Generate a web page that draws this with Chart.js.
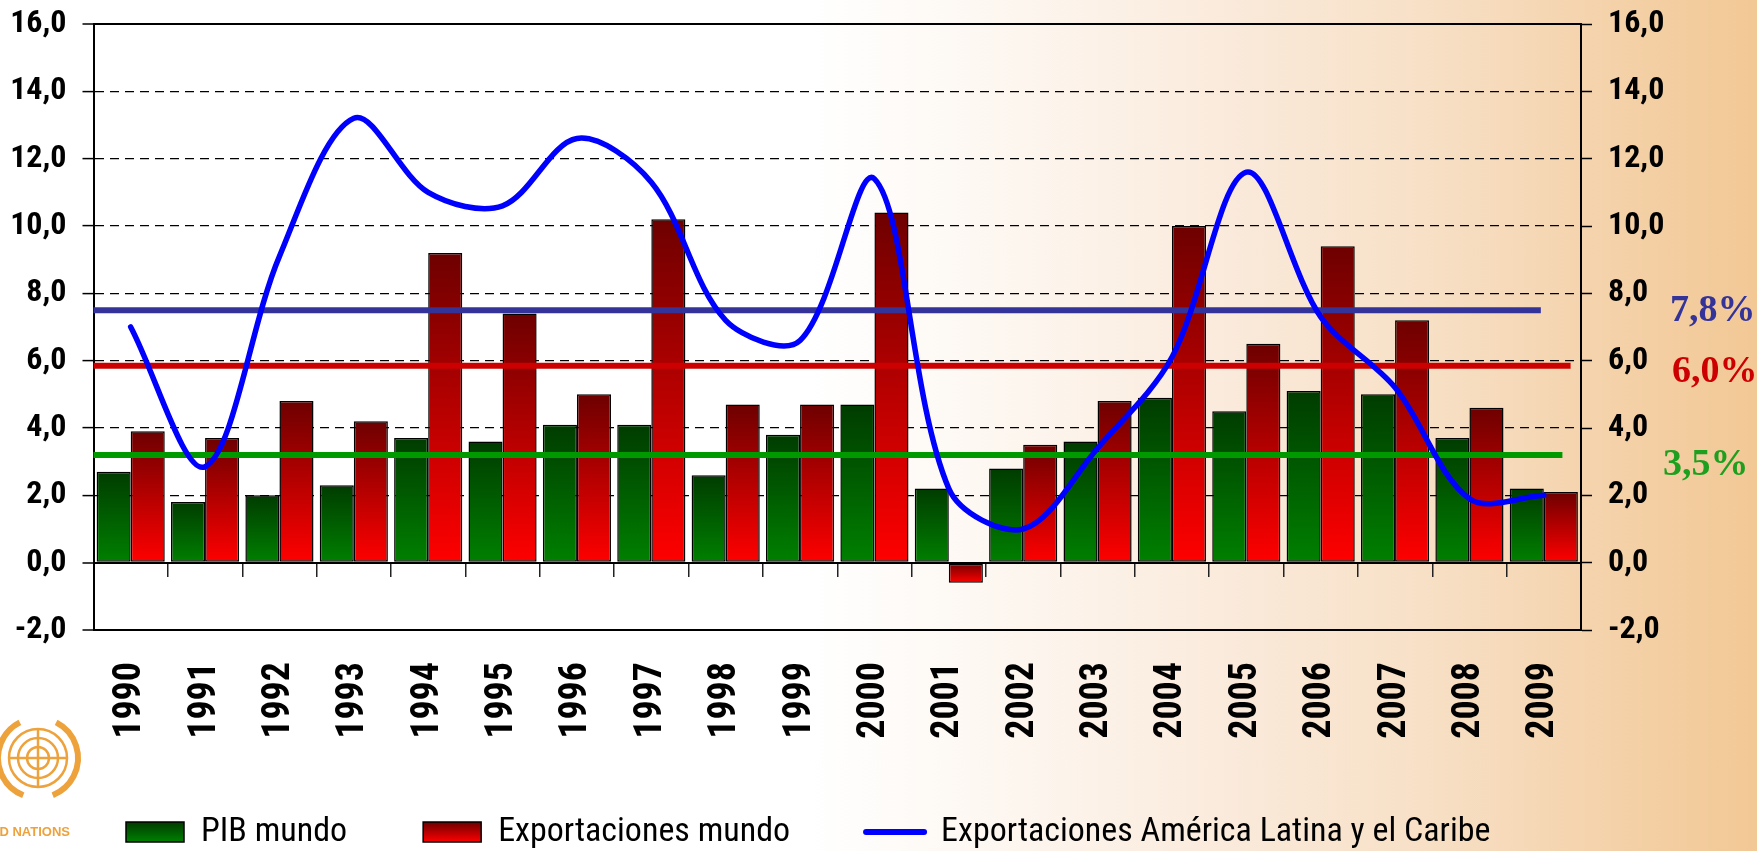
<!DOCTYPE html>
<html>
<head>
<meta charset="utf-8">
<script src="https://cdn.jsdelivr.net/npm/chart.js@4.4.1/dist/chart.umd.min.js"></script>
<style>
  html, body { margin: 0; padding: 0; }
  body {
    width: 1757px; height: 851px; overflow: hidden;
    background: linear-gradient(90deg, #ffffff 0%, #ffffff 46%, #fdf6ef 58%, #faeadb 70%, #f7dfc4 82%, #f4d0a6 93%, #f2c895 100%);
  }
  #wrap { position: relative; width: 1757px; height: 851px; }
</style>
</head>
<body>
<div id="wrap"><canvas id="c"></canvas></div>
<script>
// ---------------- data ----------------
const years = ['1990','1991','1992','1993','1994','1995','1996','1997','1998','1999',
               '2000','2001','2002','2003','2004','2005','2006','2007','2008','2009'];
const pibMundo = [2.7, 1.8, 2.0, 2.3, 3.7, 3.6, 4.1, 4.1, 2.6, 3.8,
                  4.7, 2.2, 2.8, 3.6, 4.9, 4.5, 5.1, 5.0, 3.7, 2.2];
const exportMundo = [3.9, 3.7, 4.8, 4.2, 9.2, 7.4, 5.0, 10.2, 4.7, 4.7,
                     10.4, -0.6, 3.5, 4.8, 10.0, 6.5, 9.4, 7.2, 4.6, 2.1];
const exportALC = [7.0, 2.85, 9.1, 13.2, 11.0, 10.6, 12.6, 11.3, 7.2, 6.6,
                   11.4, 2.2, 1.0, 3.4, 6.1, 11.6, 7.3, 5.2, 1.9, 2.0];
// average lines: level on the value axis; start/end on the category index axis
const refLevels = [7.5, 5.85, 3.2];
const refStart = -0.5;
const refEnds = [18.96, 19.36, 19.25];
const refLabels = ['7,8%', '6,0%', '3,5%'];
const yTickLabels = ['-2,0','0,0','2,0','4,0','6,0','8,0','10,0','12,0','14,0','16,0'];
const seriesNames = ['PIB mundo', 'Exportaciones mundo', 'Exportaciones América Latina y el Caribe'];

// ---------------- styles ----------------
const NARROW = "'Roboto Condensed', 'Liberation Sans Narrow', 'DejaVu Sans Condensed', sans-serif";
const refColors = ['#333399', '#cc0000', '#009900'];
const refTextColors = ['#333399', '#cc0000', '#1f9f1f'];
const refLabelDx = [89, 91, 82];
const refLabelDy = [1, 6, 10];
const LEGEND_FONT = 34, LEGEND_PAD = 76;
const LEGEND_H = 851 - (832 - LEGEND_FONT / 2 - LEGEND_PAD);
const PAD_BOTTOM = 0, LEGEND_LEFT = 126 - LEGEND_PAD;

Chart.defaults.font.family = NARROW;
Chart.defaults.color = '#000';

function barGradient(c, dark, light) {
  const chart = c.chart;
  if (!chart.chartArea || c.raw === undefined) return light;
  const ys = chart.scales.y;
  const a = ys.getPixelForValue(c.raw), b = ys.getPixelForValue(0);
  const top = Math.min(a, b), bot = Math.max(a, b);
  if (bot - top < 1) return light;
  const g = chart.ctx.createLinearGradient(0, top, 0, bot);
  g.addColorStop(0, dark);
  g.addColorStop(1, light);
  return g;
}
function legendGradient(ctx, dark, light) {
  const cy = 832;
  const g = ctx.createLinearGradient(0, cy - 10, 0, cy + 10);
  g.addColorStop(0, dark); g.addColorStop(1, light);
  return g;
}
const isEdge = c => c.tick && [16, 0, -2].includes(c.tick.value);

const datasets = [
  {
    type: 'bar', label: seriesNames[0], data: pibMundo, xAxisID: 'x', yAxisID: 'y',
    backgroundColor: c => barGradient(c, '#003c00', '#008000'),
    borderColor: '#000', borderWidth: 1.5, borderSkipped: false,
    categoryPercentage: 0.916, barPercentage: 1.0, order: 2
  },
  {
    type: 'bar', label: seriesNames[1], data: exportMundo, xAxisID: 'x', yAxisID: 'y',
    backgroundColor: c => barGradient(c, '#6e0000', '#ff0000'),
    borderColor: '#000', borderWidth: 1.5, borderSkipped: false,
    categoryPercentage: 0.916, barPercentage: 1.0, order: 2
  },
  {
    type: 'line', label: seriesNames[2], data: exportALC, xAxisID: 'x', yAxisID: 'y',
    borderColor: '#0000ff', borderWidth: 5.5, pointRadius: 0, tension: 0.33,
    borderCapStyle: 'round', borderJoinStyle: 'round', fill: false, order: 0
  },
  ...refLevels.map((lv, i) => ({
    type: 'line', label: 'avg' + i, xAxisID: 'x', yAxisID: 'y', parsing: false,
    data: [{x: refStart, y: lv}, {x: refEnds[i], y: lv}],
    borderColor: refColors[i], borderWidth: 6, pointRadius: 0, tension: 0, fill: false, order: 1
  }))
];

const annotations = {
  id: 'annotations',
  afterLayout(chart) {
    const lg = chart.legend;
    if (lg) { lg.left = LEGEND_LEFT; lg.width = lg.right - lg.left; }
  },
  beforeDraw(chart) {
    // UN emblem (decorative)
    const ctx = chart.ctx;
    ctx.save();
    ctx.strokeStyle = '#eea23c';
    ctx.lineWidth = 2.5;
    const cx = 38, cy = 758;
    [29, 20, 11].forEach(r => { ctx.beginPath(); ctx.arc(cx, cy, r, 0, Math.PI * 2); ctx.stroke(); });
    ctx.beginPath(); ctx.moveTo(cx - 29, cy); ctx.lineTo(cx + 29, cy);
    ctx.moveTo(cx, cy - 29); ctx.lineTo(cx, cy + 29); ctx.stroke();
    ctx.lineWidth = 6;
    ctx.beginPath(); ctx.arc(cx, cy, 40, Math.PI * 0.62, Math.PI * 1.35); ctx.stroke();
    ctx.beginPath(); ctx.arc(cx, cy, 40, -Math.PI * 0.35, Math.PI * 0.38); ctx.stroke();
    ctx.fillStyle = '#eea23c';
    ctx.font = "bold 13px 'Liberation Sans', sans-serif";
    ctx.textAlign = 'right'; ctx.textBaseline = 'middle';
    ctx.fillText('UNITED NATIONS', 70, 832);
    ctx.restore();
  },
  afterDraw(chart) {
    const {ctx, chartArea, scales} = chart;
    ctx.save();
    ctx.font = "bold 38px 'Liberation Serif', 'Times New Roman', serif";
    ctx.textAlign = 'left';
    ctx.textBaseline = 'middle';
    refLabels.forEach((t, i) => {
      ctx.fillStyle = refTextColors[i];
      ctx.fillText(t, chartArea.right + refLabelDx[i], scales.y.getPixelForValue(refLevels[i]) + refLabelDy[i]);
    });
    ctx.restore();
  }
};

const tickFont = { size: 32, weight: 'bold' };
const noPad = s => { s.paddingTop = 0; s.paddingBottom = 0; };

new Chart(document.getElementById('c'), {
  type: 'bar',
  data: { labels: years, datasets },
  plugins: [annotations],
  options: {
    responsive: true,
    maintainAspectRatio: false,
    animation: false,
    events: [],
    layout: { padding: { top: 24, left: 0, right: 0, bottom: PAD_BOTTOM } },
    scales: {
      x: {
        type: 'category', position: 'bottom', offset: true,
        grid: { display: false, drawTicks: false, offset: true },
        border: { display: false },
        ticks: { autoSkip: false, minRotation: 90, maxRotation: 90, padding: 32,
                 color: '#000', font: { size: 38, weight: 'bold' } },
        afterFit: s => { s.height = 851 - PAD_BOTTOM - LEGEND_H - 630; }
      },
      x0: {
        type: 'category', position: { y: 0 }, offset: true,
        grid: { display: true, drawOnChartArea: false, drawTicks: true, tickLength: 13,
                offset: true, color: '#222', tickWidth: 1.5, lineWidth: 1.5 },
        border: { display: true, color: '#000', width: 2 },
        ticks: { display: false },
        afterFit: s => { s.height = 0; }
      },
      y: {
        type: 'linear', position: 'left', min: -2, max: 16,
        ticks: { stepSize: 2, padding: 16, color: '#000', font: tickFont,
                 callback: (v, i) => yTickLabels[i] },
        grid: { color: '#000', lineWidth: c => (isEdge(c) ? 2 : 1.2), tickLength: 11,
                tickWidth: 1.5, tickColor: '#000', tickBorderDash: [] },
        border: { display: true, color: '#000', width: 2,
                  dash: c => (c.tick && !isEdge(c) ? [9, 6] : []) },
        afterFit: s => { s.width = 93.5; noPad(s); }
      },
      y2: {
        type: 'linear', position: 'right', min: -2, max: 16,
        ticks: { stepSize: 2, padding: 16, color: '#000', font: tickFont,
                 callback: (v, i) => yTickLabels[i] },
        grid: { drawOnChartArea: false, tickLength: 11, tickWidth: 1.5, color: '#000' },
        border: { display: true, color: '#000', width: 2 },
        afterFit: s => { s.width = 176; noPad(s); }
      }
    },
    plugins: {
      tooltip: { enabled: false },
      title: { display: false },
      legend: {
        display: true, position: 'bottom', align: 'start', maxHeight: LEGEND_H,
        labels: {
          usePointStyle: true, pointStyleWidth: 58, boxHeight: 20, padding: LEGEND_PAD,
          color: '#000', font: { size: LEGEND_FONT },
          generateLabels: chart => {
            const ctx = chart.ctx;
            return [
              { text: seriesNames[0], pointStyle: 'rect', fillStyle: legendGradient(ctx, '#003c00', '#008000'),
                strokeStyle: '#000', lineWidth: 1.5, datasetIndex: 0 },
              { text: seriesNames[1], pointStyle: 'rect', fillStyle: legendGradient(ctx, '#6e0000', '#ff0000'),
                strokeStyle: '#000', lineWidth: 1.5, datasetIndex: 1 },
              { text: seriesNames[2], pointStyle: 'line', fillStyle: '#0000ff',
                strokeStyle: '#0000ff', lineWidth: 6, lineCap: 'round', datasetIndex: 2 }
            ];
          }
        }
      }
    }
  }
});
</script>
</body>
</html>
